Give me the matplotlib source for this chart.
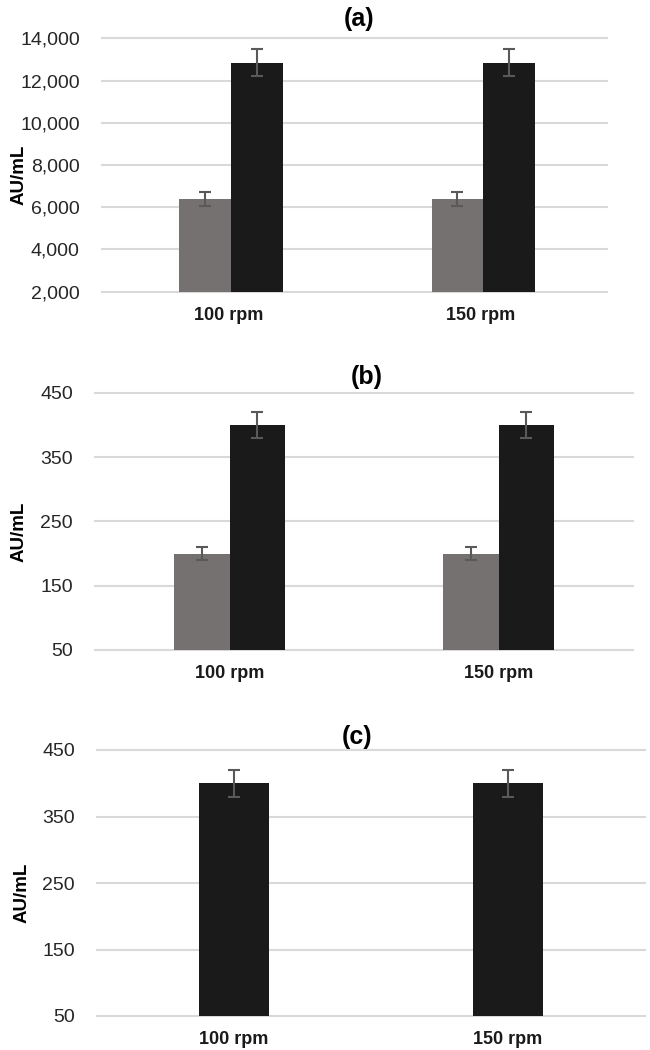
import matplotlib.pyplot as plt
import numpy as np

plt.rcParams['font.family'] = ['Liberation Sans', 'DejaVu Sans']

categories = ['100 rpm', '150 rpm']

a_gray = [6400, 6400]
a_gray_err = [330, 330]
a_black = [12850, 12850]
a_black_err = [650, 650]

b_gray = [200, 200]
b_gray_err = [10, 10]
b_black = [400, 400]
b_black_err = [20, 20]

c_black = [400, 400]
c_black_err = [20, 20]

GRAY = '#767171'
BLACK = '#1a1a1a'
ERR = '#595959'
GRID = '#d9d9d9'

W, H = 650, 1050


def make_axes(fig, left, right, top, bottom):
    # pixel box -> figure fraction
    return fig.add_axes([left / W, 1 - bottom / H, (right - left) / W, (bottom - top) / H])


def style_axis(ax, title, ymin, ymax, step, fmt, title_x, title_pad, label_x):
    ax.set_ylim(ymin, ymax)
    ax.set_xlim(-0.5, 1.5)
    ticks = np.arange(ymin, ymax + step / 2, step)
    ax.set_yticks(ticks)
    ax.set_yticklabels([fmt.format(t) for t in ticks], fontsize=14, color='#262626')
    ax.set_xticks(range(len(categories)))
    ax.set_xticklabels(categories, fontsize=13, fontweight='bold', color='#1a1a1a')
    ax.tick_params(axis='y', length=0, pad=16)
    ax.tick_params(axis='x', length=0, pad=11)
    ax.grid(axis='y', color=GRID, linewidth=1.5)
    ax.set_axisbelow(True)
    for s in ax.spines.values():
        s.set_visible(False)
    for gl in ax.get_ygridlines():
        gl.set_clip_on(False)
    ax.set_title(title, fontsize=18, fontweight='bold', x=title_x, pad=title_pad)
    ax.set_ylabel('AU/mL', fontsize=13.5, fontweight='bold')
    # label_x is the pixel x of the label's right side
    bb = ax.get_position()
    lx = (label_x / W - bb.x0) / bb.width
    ly = 0.5 - (10 / H) / bb.height
    ax.yaxis.set_label_coords(lx, ly)


fig = plt.figure(figsize=(W / 100, H / 100), dpi=100)

x = np.arange(len(categories))
w = 0.205
err_kw = dict(ecolor=ERR, capsize=4.5, error_kw=dict(elinewidth=1.5, capthick=1.5))

ax1 = make_axes(fig, 102, 607, 38.3, 291.7)
ax1.bar(x - w / 2 + 0.01, a_gray, w, yerr=a_gray_err, color=GRAY, **err_kw)
ax1.bar(x + w / 2 + 0.01, a_black, w, yerr=a_black_err, color=BLACK, **err_kw)
style_axis(ax1, '(a)', 2000, 14000, 2000, '{:,.0f}', 0.51, 8.5, 28)

ax2 = make_axes(fig, 95, 633, 392.7, 650)
ax2.bar(x - w / 2, b_gray, w, yerr=b_gray_err, color=GRAY, **err_kw)
ax2.bar(x + w / 2, b_black, w, yerr=b_black_err, color=BLACK, **err_kw)
style_axis(ax2, '(b)', 50, 450, 100, '{:.0f}', 0.505, 6, 28)

ax3 = make_axes(fig, 97, 645, 750, 1016)
ax3.bar(x, c_black, 0.255, yerr=c_black_err, color=BLACK, **err_kw)
style_axis(ax3, '(c)', 50, 450, 100, '{:.0f}', 0.474, 4, 31)

fig.savefig('out.png', dpi=100, facecolor='white')
